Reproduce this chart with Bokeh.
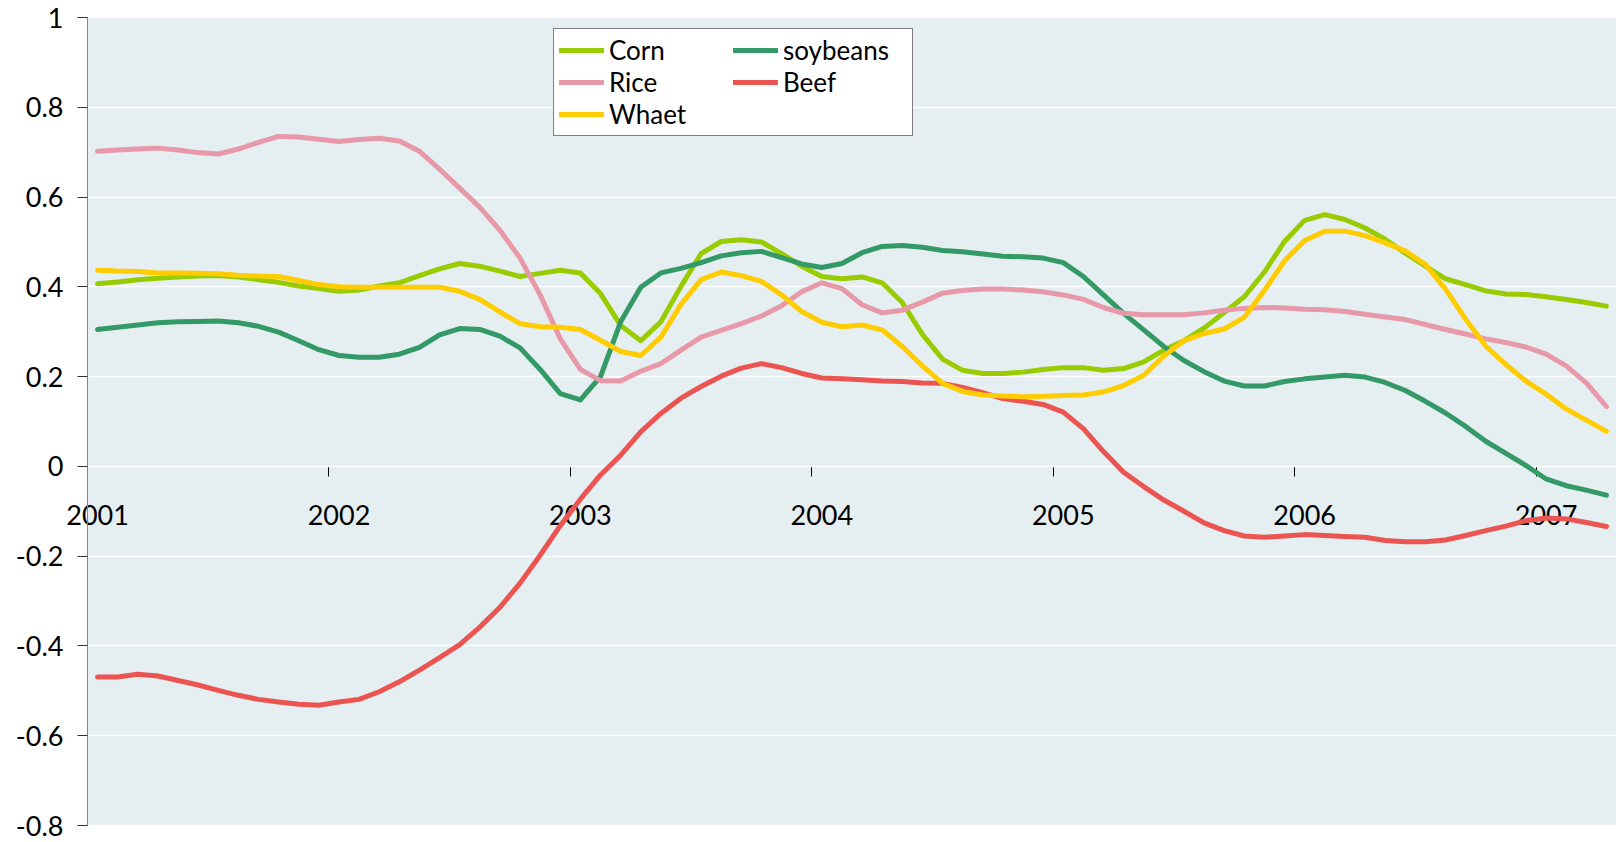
from bokeh.plotting import figure
from bokeh.models import (Legend, LegendItem, LinearAxis, FixedTicker,
                          NumeralTickFormatter, CustomJSTickFormatter, Range1d,
                          ColumnDataSource, BoxAnnotation)
from bokeh.embed import file_html
from bokeh.resources import INLINE

# Monthly series, January 2001 to April 2007
start_year = 2001
year_ticks = [2001, 2002, 2003, 2004, 2005, 2006, 2007]
value_ticks = [-0.8, -0.6, -0.4, -0.2, 0.0, 0.2, 0.4, 0.6, 0.8, 1.0]
value_min, value_max = -0.8, 1.0

corn = [0.407, 0.411, 0.416, 0.419, 0.422, 0.424, 0.425, 0.422, 0.416, 0.410, 0.402, 0.396, 0.390,
        0.393, 0.402, 0.409, 0.425, 0.440, 0.452, 0.446, 0.435, 0.423, 0.430, 0.437, 0.431, 0.385,
        0.314, 0.280, 0.322, 0.401, 0.474, 0.501, 0.505, 0.500, 0.474, 0.446, 0.423, 0.418, 0.422,
        0.409, 0.365, 0.294, 0.239, 0.214, 0.207, 0.207, 0.210, 0.216, 0.220, 0.220, 0.214, 0.218,
        0.233, 0.259, 0.280, 0.308, 0.343, 0.378, 0.433, 0.501, 0.548, 0.561, 0.550, 0.531, 0.506,
        0.475, 0.446, 0.418, 0.405, 0.391, 0.384, 0.383, 0.378, 0.372, 0.365, 0.357]

soybeans = [0.305, 0.310, 0.315, 0.320, 0.322, 0.323, 0.324, 0.320, 0.312, 0.299, 0.280, 0.260, 0.247,
            0.243, 0.243, 0.250, 0.265, 0.293, 0.307, 0.305, 0.290, 0.264, 0.216, 0.162, 0.148, 0.200,
            0.322, 0.399, 0.431, 0.441, 0.454, 0.469, 0.476, 0.479, 0.465, 0.451, 0.443, 0.452, 0.476,
            0.490, 0.492, 0.488, 0.481, 0.478, 0.473, 0.468, 0.467, 0.464, 0.454, 0.423, 0.382, 0.341,
            0.304, 0.267, 0.236, 0.211, 0.190, 0.179, 0.179, 0.189, 0.195, 0.199, 0.203, 0.199, 0.187,
            0.169, 0.145, 0.119, 0.089, 0.056, 0.029, 0.002, -0.028, -0.043, -0.053, -0.064]

rice = [0.702, 0.705, 0.707, 0.709, 0.705, 0.699, 0.696, 0.707, 0.722, 0.735, 0.734, 0.729, 0.724,
        0.728, 0.731, 0.725, 0.702, 0.662, 0.620, 0.577, 0.526, 0.464, 0.382, 0.284, 0.216, 0.191,
        0.190, 0.212, 0.229, 0.259, 0.288, 0.303, 0.318, 0.335, 0.358, 0.389, 0.409, 0.396, 0.360,
        0.342, 0.348, 0.366, 0.386, 0.392, 0.395, 0.395, 0.393, 0.389, 0.382, 0.372, 0.354, 0.341,
        0.338, 0.338, 0.338, 0.342, 0.348, 0.352, 0.354, 0.353, 0.350, 0.349, 0.345, 0.339, 0.333,
        0.327, 0.316, 0.305, 0.295, 0.284, 0.276, 0.266, 0.250, 0.224, 0.186, 0.133]

beef = [-0.469, -0.469, -0.463, -0.467, -0.477, -0.487, -0.499, -0.510, -0.519, -0.525, -0.530, -0.532, -0.525,
        -0.519, -0.502, -0.480, -0.454, -0.426, -0.397, -0.358, -0.314, -0.260, -0.198, -0.132, -0.073, -0.019,
        0.025, 0.077, 0.118, 0.152, 0.178, 0.201, 0.219, 0.229, 0.220, 0.207, 0.197, 0.195, 0.193,
        0.190, 0.189, 0.186, 0.185, 0.176, 0.164, 0.151, 0.145, 0.138, 0.121, 0.084, 0.033, -0.013,
        -0.045, -0.075, -0.100, -0.126, -0.143, -0.155, -0.158, -0.155, -0.152, -0.154, -0.156, -0.158, -0.165,
        -0.168, -0.168, -0.164, -0.154, -0.143, -0.133, -0.121, -0.115, -0.117, -0.125, -0.134]

whaet = [0.437, 0.435, 0.434, 0.431, 0.431, 0.430, 0.429, 0.426, 0.424, 0.423, 0.414, 0.405, 0.400,
         0.399, 0.399, 0.399, 0.399, 0.399, 0.390, 0.372, 0.344, 0.318, 0.311, 0.310, 0.305, 0.281,
         0.256, 0.247, 0.288, 0.361, 0.416, 0.433, 0.425, 0.412, 0.382, 0.345, 0.321, 0.311, 0.315,
         0.304, 0.267, 0.224, 0.185, 0.167, 0.159, 0.157, 0.155, 0.156, 0.158, 0.159, 0.166, 0.180,
         0.203, 0.246, 0.280, 0.296, 0.306, 0.332, 0.392, 0.458, 0.503, 0.524, 0.524, 0.514, 0.498,
         0.480, 0.450, 0.395, 0.328, 0.268, 0.227, 0.190, 0.161, 0.128, 0.103, 0.078]

n_months = len(corn)
end_pos = start_year + n_months / 12
# each monthly point sits in the middle of its month
month_pos = [start_year + (i + 0.5) / 12 for i in range(n_months)]

source = ColumnDataSource(data=dict(x=month_pos, corn=corn, soybeans=soybeans,
                                    rice=rice, beef=beef, whaet=whaet))

FONT = "Lato"
W, H = 1616, 842
LEFT, TOP, BOTTOM = 87, 17, 17          # pixel margins around the shaded area
px_per_year = (W - LEFT) / (end_pos - start_year)
px_per_unit = (H - TOP - BOTTOM) / (value_max - value_min)

# the frame covers the whole canvas; the axes sit at fixed data positions so
# that their labels are free to spill to the left of / below the shaded area
p = figure(width=W, height=H, output_backend="svg", toolbar_location=None,
           x_range=Range1d(start_year - LEFT / px_per_year, end_pos),
           y_range=Range1d(value_min - BOTTOM / px_per_unit, value_max + TOP / px_per_unit),
           x_axis_location=None, y_axis_location=None,
           min_border=0)

p.background_fill_color = "white"
p.border_fill_color = "white"
p.outline_line_color = None

p.add_layout(BoxAnnotation(left=start_year, right=end_pos, bottom=value_min, top=value_max,
                           fill_color="#E5EEF0", fill_alpha=1.0, line_color=None,
                           level="image"))

for g in p.xgrid:
    g.visible = False
for g in p.ygrid:
    g.ticker = FixedTicker(ticks=value_ticks)
    g.grid_line_color = "white"
    g.grid_line_width = 1.5
    g.bounds = (start_year, end_pos)

# value axis
ya = LinearAxis(fixed_location=start_year, bounds=(value_min, value_max),
                ticker=FixedTicker(ticks=value_ticks),
                formatter=NumeralTickFormatter(format="0.[0]"),
                axis_line_color="#868686", axis_line_width=1,
                major_tick_line_color="#333333", major_tick_out=10, major_tick_in=0,
                minor_tick_line_color=None, major_label_standoff=14,
                major_label_text_font=FONT, major_label_text_font_size="27px",
                major_label_text_color="black")
p.add_layout(ya, "left")

# time axis drawn along the zero line
xa = LinearAxis(fixed_location=0, bounds=(start_year, end_pos),
                ticker=FixedTicker(ticks=year_ticks),
                formatter=CustomJSTickFormatter(code="return ''"),
                axis_line_color="black", axis_line_width=1,
                major_tick_line_color="black", major_tick_out=10, major_tick_in=0,
                minor_tick_line_color=None, level="underlay")
p.add_layout(xa, "below")

# year labels, centred on January of each year
xl = LinearAxis(fixed_location=0,
                ticker=FixedTicker(ticks=[y + 1 / 24 for y in year_ticks]),
                formatter=CustomJSTickFormatter(code="return Math.floor(tick).toString()"),
                axis_line_color=None, major_tick_line_color=None, major_tick_out=0,
                major_tick_in=0, minor_tick_line_color=None,
                major_label_standoff=39, major_label_text_font=FONT,
                major_label_text_font_size="27px", major_label_text_color="black",
                level="underlay")
p.add_layout(xl, "below")

styles = dict(line_width=5, line_join="round", line_cap="round")
r_corn = p.line("x", "corn", source=source, line_color="#99CC00", **styles)
r_soy = p.line("x", "soybeans", source=source, line_color="#339966", **styles)
r_rice = p.line("x", "rice", source=source, line_color="#E899A9", **styles)
r_beef = p.line("x", "beef", source=source, line_color="#EB5450", **styles)
r_whaet = p.line("x", "whaet", source=source, line_color="#FFCC00", **styles)

legend = Legend(
    items=[LegendItem(label="Corn", renderers=[r_corn]),
           LegendItem(label="Rice", renderers=[r_rice]),
           LegendItem(label="Whaet", renderers=[r_whaet]),
           LegendItem(label="soybeans", renderers=[r_soy]),
           LegendItem(label="Beef", renderers=[r_beef])],
    location=(553, 706), orientation="vertical", nrows=3,
    glyph_width=45, glyph_height=20, label_standoff=5,
    label_width=124, label_height=30, spacing=0, padding=5, margin=0,
    border_line_color="black", border_line_width=1,
    background_fill_color="white", background_fill_alpha=1.0,
    label_text_font=FONT, label_text_font_size="26px", label_text_color="black",
)
p.add_layout(legend)

open("out.html", "w").write(file_html(p, INLINE))
